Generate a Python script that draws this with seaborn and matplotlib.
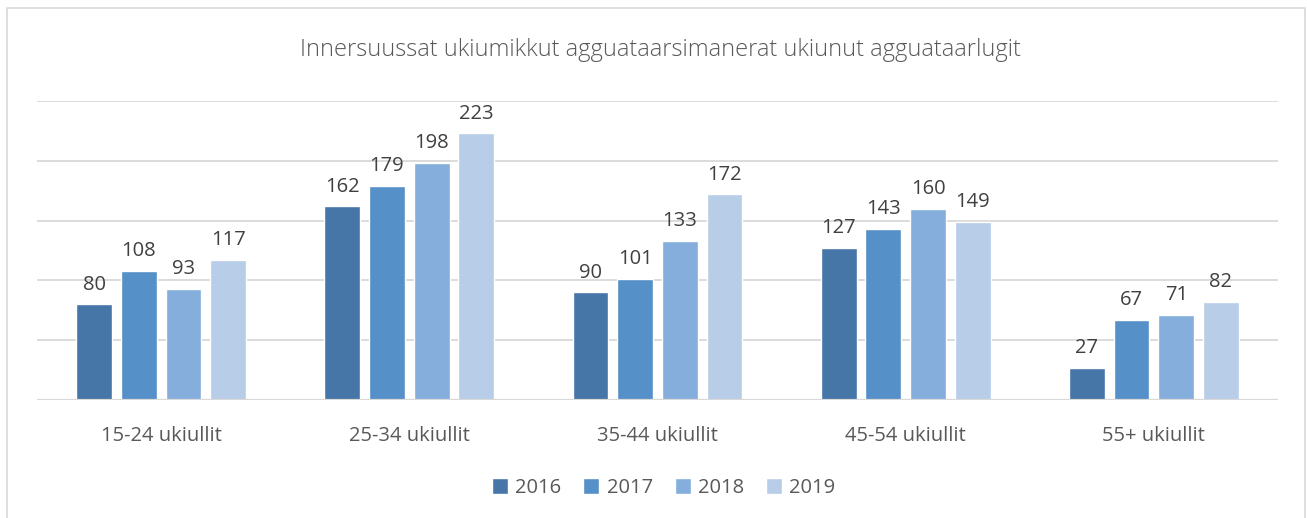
import matplotlib
matplotlib.use("Agg")
import matplotlib.pyplot as plt
import seaborn as sns
import pandas as pd
from matplotlib.patches import Rectangle

categories = ["15-24 ukiullit", "25-34 ukiullit", "35-44 ukiullit", "45-54 ukiullit", "55+ ukiullit"]
years = ["2016", "2017", "2018", "2019"]
v2016 = [80, 162, 90, 127, 27]
v2017 = [108, 179, 101, 143, 67]
v2018 = [93, 198, 133, 160, 71]
v2019 = [117, 223, 172, 149, 82]
title = "Innersuussat ukiumikkut agguataarsimanerat ukiunut agguataarlugit"
colors = ["#4576A7", "#5590C8", "#85AEDC", "#B7CDE8"]

rows = []
for y, vals in zip(years, [v2016, v2017, v2018, v2019]):
    for c, v in zip(categories, vals):
        rows.append({"cat": c, "year": y, "val": v})
df = pd.DataFrame(rows)

sns.set_theme(style="white")
plt.rcParams['font.family'] = ['Open Sans', 'DejaVu Sans']

fig = plt.figure(figsize=(13.07, 5.18), dpi=100)
ax = fig.add_axes([37/1307, 118/518, (1278-37)/1307, 299/518])

sns.barplot(data=df, x="cat", y="val", hue="year", palette=colors,
            width=0.72, gap=0.2, ax=ax, legend=True, errorbar=None,
            saturation=1)

ax.set_ylim(0, 250)
ax.set_xlim(-0.5, 4.5)
ax.set_yticks([0, 50, 100, 150, 200, 250])
ax.set_yticklabels([])
ax.yaxis.grid(True, color="#D9D9D9", linewidth=1.3)
ax.set_axisbelow(True)
for s in ax.spines.values():
    s.set_visible(False)
ax.axhline(0, color="#D9D9D9", linewidth=1.6, zorder=1)
ax.tick_params(axis="y", length=0)
ax.tick_params(axis="x", length=0, pad=19, labelsize=14.5, labelcolor="#595959")
ax.set_xlabel("")
ax.set_ylabel("")

for cont in ax.containers:
    ax.bar_label(cont, padding=7, fontsize=14.5, color="#404040")

ax.legend(loc="upper center", bbox_to_anchor=(0.505, -0.2), ncol=4, frameon=False,
          fontsize=14.5, handlelength=0.8, handleheight=0.8, handletextpad=0.35,
          columnspacing=1.1, labelcolor="#595959")

fig.text(0.505, 1 - 50/518, title, ha="center", va="center", fontsize=17,
         color="#595959", fontweight="light")

fig.patches.append(Rectangle((7/1307, -0.01), 1298/1307, 1 - 8/518 + 0.01,
                             transform=fig.transFigure, fill=False,
                             edgecolor="#D9D9D9", linewidth=1.2))

fig.savefig("out.png", dpi=100)
